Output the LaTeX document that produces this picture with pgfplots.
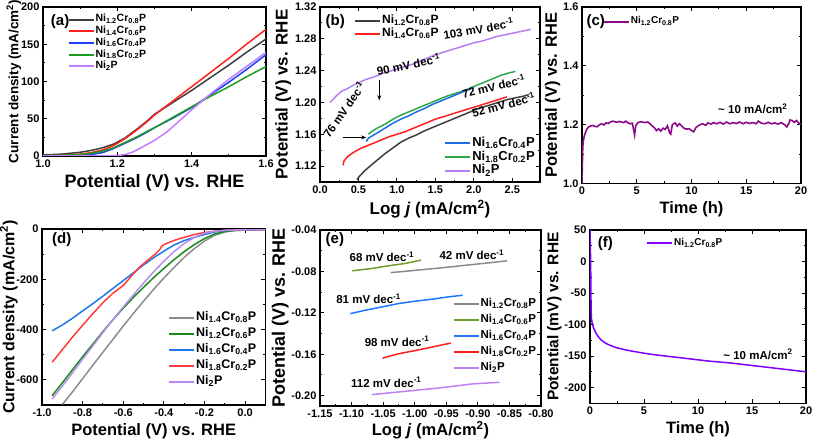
\documentclass[border=0pt]{standalone}
\usepackage{fontspec}
\setmainfont{Liberation Sans}
\usepackage{pgfplots}
\pgfplotsset{compat=1.18}
\usetikzlibrary{arrows.meta}
\newcommand{\fs}[1]{\fontsize{#1}{#1}\selectfont}
\newcommand{\cmp}[2]{Ni\textsubscript{#1}Cr\textsubscript{#2}P}
\newcommand{\nip}{Ni\textsubscript{2}P}
\definecolor{aGray}{HTML}{3F3F3F}
\definecolor{aRed}{HTML}{FF1F1F}
\definecolor{aBlue}{HTML}{1F3FFF}
\definecolor{aGreen}{HTML}{1E9A1E}
\definecolor{aPurple}{HTML}{C07EFF}
\definecolor{bBlue}{HTML}{1C6FE0}
\definecolor{bGreen}{HTML}{2FA84A}
\definecolor{bPurple}{HTML}{B57FF0}
\definecolor{cPurple}{HTML}{8A0A8A}
\definecolor{dGray}{HTML}{8C8C8C}
\definecolor{dGreen}{HTML}{1A8A1A}
\definecolor{dBlue}{HTML}{1E78E6}
\definecolor{dRed}{HTML}{FF3B3B}
\definecolor{dPurple}{HTML}{B98AF2}
\definecolor{eGray}{HTML}{8A8A8A}
\definecolor{eOlive}{HTML}{6E9E2A}
\definecolor{eBlue}{HTML}{1E78FF}
\definecolor{eRed}{HTML}{FF1E1E}
\definecolor{ePurple}{HTML}{C080F0}
\definecolor{fViolet}{HTML}{8000FF}
\pgfplotsset{
  panel/.style={
    scale only axis, anchor=south west,
    axis line style={line width=1.2pt},
    tick align=inside, xtick pos=both, ytick pos=both,
    major tick length=4pt, minor tick length=2.2pt,
    every tick/.append style={line width=0.9pt, black},
    minor x tick num=1, minor y tick num=1,
    scaled ticks=false,
    /pgf/number format/assume math mode=true,
    tick label style={font=\bfseries\fs{11}},
    label style={font=\bfseries\fs{17}},
    legend cell align=left,
    legend style={draw=none, fill=none, inner sep=0pt, outer sep=0pt, anchor=north west, font=\bfseries\fs{10.5}},
    legend image code/.code={\draw[##1, line width=2pt] (0pt,0pt) -- (25pt,0pt);},
    every axis plot/.append style={line width=1.5pt, no markers},
  },
  p1/.style={/pgf/number format/fixed, /pgf/number format/fixed zerofill, /pgf/number format/precision=1},
  p2/.style={/pgf/number format/fixed, /pgf/number format/fixed zerofill, /pgf/number format/precision=2},
}
\begin{document}
\begin{tikzpicture}
\path[use as bounding box] (0,0) rectangle (813pt,439pt);

% ---------------- (a)
\begin{axis}[panel, at={(43pt,283pt)}, width=223pt, height=149pt,
  xmin=1.0, xmax=1.6, ymin=0, ymax=200,
  xtick={1.0,1.2,1.4,1.6}, ytick={0,50,100,150,200},
  xticklabel style={p1},
  xlabel={Potential (V) vs. RHE},
  ylabel={Current density (mA/cm\textsuperscript{2})},
  xlabel style={font=\bfseries\fs{18}},
  ylabel style={font=\bfseries\fs{13.5}}, ylabel shift=-7pt,
  legend style={at={(0.11,0.955)}, nodes={inner sep=1pt, text height=7.2pt, text depth=2.5pt}},
]
\addplot[color=aGray] coordinates {(1.00,1.5) (1.05,2.5) (1.10,5) (1.13,7.5) (1.16,11) (1.19,16) (1.22,24) (1.25,35) (1.28,47) (1.30,56) (1.35,72) (1.40,88) (1.45,105) (1.50,122) (1.55,140) (1.60,157)};
\addlegendentry{\cmp{1.2}{0.8}}
\addplot[color=aRed] coordinates {(1.00,0.5) (1.05,1) (1.10,2.5) (1.13,4.5) (1.16,8) (1.19,14) (1.22,23) (1.25,34) (1.28,46) (1.30,55) (1.35,74) (1.40,93) (1.45,112) (1.50,131) (1.55,151) (1.60,170)};
\addlegendentry{\cmp{1.4}{0.6}}
\addplot[color=aBlue] coordinates {(1.00,0.3) (1.05,0.5) (1.10,1) (1.13,2) (1.16,4.5) (1.19,10) (1.22,17) (1.25,24) (1.28,32) (1.30,38) (1.35,51) (1.40,65) (1.45,82) (1.50,99) (1.55,117) (1.60,136)};
\addlegendentry{\cmp{1.6}{0.4}}
\addplot[color=aGreen] coordinates {(1.00,0.5) (1.05,1) (1.10,2) (1.13,3.5) (1.16,6.5) (1.19,11) (1.22,18) (1.25,25) (1.28,33) (1.30,38) (1.35,52) (1.40,66) (1.45,80) (1.50,93) (1.55,107) (1.60,120)};
\addlegendentry{\cmp{1.8}{0.2}}
\addplot[color=aPurple] coordinates {(1.00,0) (1.15,0) (1.20,0.5) (1.22,2) (1.24,5) (1.26,10) (1.28,15.5) (1.30,21) (1.33,31) (1.36,44) (1.40,62) (1.45,83) (1.50,103) (1.55,121) (1.60,139)};
\addlegendentry{\nip}
\node[anchor=west, font=\bfseries\fs{15}] at (rel axis cs:0.02,0.905) {(a)};
\end{axis}

% ---------------- (b)
\begin{axis}[panel, at={(320pt,257pt)}, width=220pt, height=175pt,
  xmin=0, xmax=2.86, ymin=1.10, ymax=1.32,
  xtick={0,0.5,1,1.5,2,2.5}, ytick={1.12,1.16,1.20,1.24,1.28,1.32},
  xticklabel style={p1}, yticklabel style={p2},
  xlabel={Log \textit{j} (mA/cm\textsuperscript{2})},
  ylabel={Potential (V) vs. RHE}, ylabel shift=-3pt,
  legend style={at={(0.155,0.955)}, font=\bfseries\fs{12}, nodes={inner sep=1pt, text height=8pt, text depth=2.8pt}},
]
\addplot[color=aGray] coordinates {(0.48,1.103) (0.52,1.108) (0.58,1.114) (0.65,1.120) (0.75,1.128) (0.85,1.136) (0.95,1.143) (1.05,1.150) (1.15,1.155) (1.25,1.159) (1.35,1.164) (1.45,1.168) (1.55,1.172) (1.65,1.176) (1.75,1.180) (1.85,1.184) (1.95,1.188) (2.05,1.192) (2.15,1.195) (2.25,1.198) (2.35,1.201) (2.45,1.204) (2.55,1.206) (2.65,1.208) (2.72,1.210)};
\addlegendentry{\cmp{1.2}{0.8}}
\addplot[color=aRed] coordinates {(0.30,1.121) (0.31,1.126) (0.35,1.131) (0.40,1.135) (0.45,1.138) (0.52,1.142) (0.60,1.145) (0.70,1.149) (0.80,1.153) (0.90,1.157) (1.00,1.160) (1.10,1.163) (1.20,1.167) (1.30,1.171) (1.40,1.175) (1.50,1.179) (1.60,1.182) (1.70,1.185) (1.80,1.188) (1.90,1.191) (2.00,1.194) (2.10,1.197) (2.20,1.200) (2.30,1.203) (2.43,1.207)};
\addlegendentry{\cmp{1.4}{0.6}}
\addplot[color=bGreen, forget plot] coordinates {(0.63,1.160) (0.68,1.164) (0.75,1.168) (0.85,1.173) (0.95,1.179) (1.05,1.184) (1.15,1.188) (1.25,1.192) (1.35,1.196) (1.45,1.200) (1.55,1.204) (1.65,1.208) (1.75,1.211) (1.85,1.214) (1.95,1.218) (2.05,1.222) (2.15,1.226) (2.25,1.230) (2.35,1.234) (2.45,1.237) (2.54,1.239)};
\addplot[color=bBlue, forget plot] coordinates {(0.60,1.151) (0.63,1.155) (0.68,1.158) (0.75,1.162) (0.85,1.168) (0.95,1.174) (1.05,1.179) (1.15,1.183) (1.25,1.188) (1.35,1.192) (1.45,1.197) (1.55,1.201) (1.65,1.205) (1.75,1.209) (1.85,1.213) (1.95,1.217) (2.00,1.219)};
\addplot[color=bPurple, forget plot] coordinates {(0.13,1.200) (0.17,1.204) (0.22,1.209) (0.28,1.214) (0.35,1.217) (0.42,1.221) (0.50,1.225) (0.60,1.229) (0.70,1.232) (0.80,1.236) (0.90,1.239) (1.00,1.242) (1.10,1.245) (1.20,1.248) (1.30,1.252) (1.40,1.256) (1.50,1.260) (1.60,1.263) (1.70,1.266) (1.80,1.269) (1.90,1.272) (2.00,1.275) (2.10,1.277) (2.20,1.280) (2.30,1.283) (2.40,1.285) (2.50,1.287) (2.60,1.289) (2.70,1.291) (2.74,1.292)};
\node[anchor=west, font=\bfseries\fs{15}] at (rel axis cs:0.01,0.915) {(b)};
\begin{scope}[every node/.style={font=\bfseries\fs{11.5}}]
\node[rotate=10] at (axis cs:2.06,1.2927) {103 mV dec\textsuperscript{-1}};
\node[rotate=12] at (axis cs:1.15,1.248) {90 mV dec\textsuperscript{-1}};
\node[rotate=55] at (axis cs:0.31,1.191) {76 mV dec\textsuperscript{-1}};
\node[rotate=13] at (axis cs:2.257,1.2206) {72 mV dec\textsuperscript{-1}};
\node[rotate=14] at (axis cs:2.387,1.1974) {52 mV dec\textsuperscript{-1}};
\end{scope}
\draw[-{Stealth[length=5pt,width=4pt]}, line width=0.9pt] (axis cs:0.77,1.2276) -- (axis cs:0.77,1.2027);
\draw[-{Stealth[length=5pt,width=4pt]}, line width=0.9pt] (axis cs:0.30,1.156) -- (axis cs:0.60,1.156);
\end{axis}
\begin{axis}[panel, at={(320pt,257pt)}, width=220pt, height=175pt, hide axis,
  xmin=0, xmax=1, ymin=0, ymax=1,
  legend style={at={(0.565,0.26)}, font=\bfseries\fs{13}, nodes={inner sep=1pt, text height=8.8pt, text depth=3pt}},
]
\addlegendimage{color=bBlue}
\addlegendentry{\cmp{1.6}{0.4}}
\addlegendimage{color=bGreen}
\addlegendentry{\cmp{1.8}{0.2}}
\addlegendimage{color=bPurple}
\addlegendentry{\nip}
\end{axis}

% ---------------- (c)
\begin{axis}[panel, at={(582pt,255.5pt)}, width=219pt, height=176.5pt,
  xmin=0, xmax=20, ymin=1.0, ymax=1.6,
  xtick={0,5,10,15,20}, ytick={1.0,1.2,1.4,1.6},
  yticklabel style={p1},
  xlabel={Time (h)}, ylabel={Potential (V) vs. RHE}, ylabel shift=-4pt,
  label style={font=\bfseries\fs{16.5}},
  legend style={at={(0.095,0.95)}, font=\bfseries\fs{10}, nodes={inner sep=1pt, text height=7pt, text depth=2.4pt}},
]
\addplot[color=cPurple, line width=1.6pt, forget plot] coordinates {(0,1.0) (0.03,1.06) (0.06,1.11) (0.1,1.14) (0.2,1.16) (0.3,1.172) (0.45,1.185) (0.6,1.192) (0.8,1.196) (1.0,1.197) (1.2,1.194) (1.4,1.193) (1.6,1.20) (1.8,1.203) (2.0,1.199) (2.2,1.206) (2.4,1.204) (2.6,1.209) (2.8,1.212) (3.0,1.210) (3.2,1.208) (3.4,1.211) (3.6,1.209) (3.8,1.207) (4.0,1.212) (4.2,1.206) (4.4,1.203) (4.6,1.205) (4.7,1.185) (4.8,1.165) (4.9,1.195) (5.1,1.207) (5.4,1.210) (5.7,1.207) (6.0,1.209) (6.2,1.203) (6.4,1.196) (6.6,1.190) (6.8,1.180) (7.0,1.186) (7.2,1.178) (7.4,1.188) (7.6,1.184) (7.8,1.196) (7.9,1.185) (8.0,1.172) (8.1,1.168) (8.25,1.200) (8.5,1.206) (8.7,1.195) (8.9,1.203) (9.1,1.196) (9.3,1.188) (9.5,1.185) (9.8,1.186) (10.0,1.180) (10.2,1.176) (10.4,1.190) (10.6,1.196) (10.8,1.200) (11.0,1.203) (11.3,1.198) (11.5,1.206) (11.8,1.202) (12.0,1.207) (12.3,1.203) (12.6,1.208) (12.9,1.202) (13.2,1.209) (13.5,1.203) (13.8,1.207) (14.1,1.204) (14.4,1.209) (14.7,1.203) (15.0,1.208) (15.3,1.204) (15.6,1.207) (15.9,1.203) (16.1,1.212) (16.4,1.205) (16.7,1.203) (17.0,1.208) (17.3,1.203) (17.6,1.206) (17.9,1.202) (18.2,1.207) (18.5,1.200) (18.7,1.192) (18.9,1.205) (19.0,1.216) (19.2,1.214) (19.4,1.208) (19.6,1.214) (19.8,1.205) (20.0,1.200)};
\addlegendimage{color=cPurple}
\addlegendentry{\cmp{1.2}{0.8}}
\node[anchor=west, font=\bfseries\fs{15}] at (rel axis cs:0.005,0.917) {(c)};
\node[font=\bfseries\fs{11.5}] at (axis cs:15.6,1.255) {\textasciitilde\ 10 mA/cm\textsuperscript{2}};
\end{axis}

% ---------------- (d)
\begin{axis}[panel, at={(42pt,34pt)}, width=223.4pt, height=176pt,
  xmin=-1.0, xmax=0.1, ymin=-700, ymax=0,
  xtick={-1,-0.8,-0.6,-0.4,-0.2,0}, ytick={0,-200,-400,-600},
  xticklabel style={p1},
  xlabel={Potential (V) vs. RHE},
  ylabel={Current density (mA/cm\textsuperscript{2})}, ylabel shift=-8pt,
  label style={font=\bfseries\fs{16.5}},
  ylabel style={font=\bfseries\fs{16}},
  legend style={at={(0.565,0.534)}, font=\bfseries\fs{12.5}, nodes={inner sep=1pt, text height=8.7pt, text depth=3.3pt}, row sep=2pt},
]
\addplot[color=dGray] coordinates {(-0.9,-698) (-0.85,-648) (-0.8,-595) (-0.75,-542) (-0.7,-490) (-0.65,-438) (-0.6,-386) (-0.55,-336) (-0.5,-287) (-0.45,-240) (-0.4,-195) (-0.35,-153) (-0.3,-113) (-0.25,-78) (-0.2,-48) (-0.15,-25) (-0.1,-12) (-0.05,-6) (0,-4) (0.1,-2)};
\addlegendentry{\cmp{1.4}{0.8}}
\addplot[color=dGreen] coordinates {(-0.95,-663) (-0.9,-612) (-0.85,-560) (-0.8,-508) (-0.75,-458) (-0.7,-408) (-0.65,-360) (-0.6,-315) (-0.55,-272) (-0.5,-232) (-0.45,-193) (-0.4,-157) (-0.35,-122) (-0.3,-90) (-0.25,-62) (-0.2,-38) (-0.15,-20) (-0.1,-10) (-0.05,-6) (0,-4) (0.1,-2)};
\addlegendentry{\cmp{1.2}{0.6}}
\addplot[color=dBlue] coordinates {(-0.95,-405) (-0.9,-382) (-0.85,-355) (-0.8,-326) (-0.75,-297) (-0.7,-267) (-0.65,-236) (-0.6,-205) (-0.55,-174) (-0.5,-143) (-0.45,-114) (-0.4,-88) (-0.35,-64) (-0.3,-46) (-0.25,-33) (-0.2,-22) (-0.15,-12) (-0.1,-6) (0,-3) (0.1,-2)};
\addlegendentry{\cmp{1.6}{0.4}}
\addplot[color=dRed] coordinates {(-0.95,-530) (-0.9,-480) (-0.85,-430) (-0.8,-383) (-0.75,-337) (-0.7,-293) (-0.65,-255) (-0.6,-225) (-0.57,-197) (-0.55,-178) (-0.52,-152) (-0.5,-138) (-0.47,-118) (-0.44,-98) (-0.42,-82) (-0.41,-68) (-0.40,-62) (-0.37,-52) (-0.34,-43) (-0.3,-33) (-0.25,-22) (-0.2,-14) (-0.15,-9) (-0.1,-5) (0,-3) (0.1,-2)};
\addlegendentry{\cmp{1.8}{0.2}}
\addplot[color=dPurple] coordinates {(-0.95,-676) (-0.9,-625) (-0.85,-572) (-0.8,-518) (-0.75,-465) (-0.7,-412) (-0.65,-360) (-0.6,-310) (-0.55,-262) (-0.5,-215) (-0.45,-170) (-0.4,-128) (-0.35,-90) (-0.3,-58) (-0.25,-33) (-0.2,-17) (-0.15,-9) (-0.1,-5) (0,-3) (0.1,-2)};
\addlegendentry{\nip}
\node[anchor=west, font=\bfseries\fs{15}] at (rel axis cs:0.03,0.937) {(d)};
\end{axis}

% ---------------- (e)
\begin{axis}[panel, at={(320pt,33pt)}, width=221pt, height=176pt,
  xmin=-1.15, xmax=-0.80, ymin=-0.21, ymax=-0.04,
  xtick={-1.15,-1.1,-1.05,-1,-0.95,-0.9,-0.85,-0.8}, ytick={-0.04,-0.08,-0.12,-0.16,-0.20},
  xticklabel style={p2}, yticklabel style={p2},
  xlabel={Log \textit{j} (mA/cm\textsuperscript{2})}, xlabel shift=-3pt,
  xlabel style={font=\bfseries\fs{16.5}},
  ylabel={Potential (V) vs. RHE}, ylabel shift=-4pt,
  ylabel style={font=\bfseries\fs{18}},
  legend style={at={(0.60,0.614)}, font=\bfseries\fs{11.5}, nodes={inner sep=1pt, text height=8pt, text depth=3pt}, row sep=2.9pt},
]
\addplot[color=eGray] coordinates {(-1.038,-0.0812) (-1.00,-0.0790) (-0.96,-0.0767) (-0.92,-0.0741) (-0.89,-0.0722) (-0.854,-0.0698)};
\addlegendentry{\cmp{1.2}{0.8}}
\addplot[color=eOlive] coordinates {(-1.099,-0.0794) (-1.068,-0.0772) (-1.042,-0.0746) (-1.015,-0.0723) (-0.990,-0.0691)};
\addlegendentry{\cmp{1.4}{0.6}}
\addplot[color=eBlue] coordinates {(-1.102,-0.1208) (-1.079,-0.1176) (-1.052,-0.1143) (-1.026,-0.1111) (-1.0,-0.1088) (-0.973,-0.1069) (-0.947,-0.1046) (-0.924,-0.1030)};
\addlegendentry{\cmp{1.6}{0.4}}
\addplot[color=eRed] coordinates {(-1.051,-0.1638) (-1.026,-0.1596) (-0.999,-0.1564) (-0.973,-0.1531) (-0.943,-0.1492)};
\addlegendentry{\cmp{1.8}{0.2}}
\addplot[color=ePurple] coordinates {(-1.068,-0.1990) (-1.015,-0.1958) (-0.962,-0.1926) (-0.909,-0.1887) (-0.866,-0.1871)};
\addlegendentry{\nip}
\node[anchor=west, font=\bfseries\fs{15}] at (rel axis cs:0.01,0.943) {(e)};
\begin{scope}[every node/.style={font=\bfseries\fs{11.5}}]
\node at (axis cs:-1.052,-0.0659) {68 mV dec\textsuperscript{-1}};
\node at (axis cs:-0.9095,-0.0642) {42 mV dec\textsuperscript{-1}};
\node at (axis cs:-1.073,-0.1063) {81 mV dec\textsuperscript{-1}};
\node at (axis cs:-1.028,-0.1476) {98 mV dec\textsuperscript{-1}};
\node at (axis cs:-1.045,-0.1870) {112 mV dec\textsuperscript{-1}};
\end{scope}
\end{axis}

% ---------------- (f)
\begin{axis}[panel, at={(590pt,35.7pt)}, width=216pt, height=173.3pt,
  xmin=0, xmax=20, ymin=-225, ymax=50,
  xtick={0,5,10,15,20}, ytick={50,0,-50,-100,-150,-200},
  xlabel={Time (h)}, ylabel={Potential (mV) vs. RHE}, ylabel shift=-4pt,
  xlabel style={font=\bfseries\fs{16.5}},
  ylabel style={font=\bfseries\fs{15.5}},
  legend style={at={(0.26,0.955)}, font=\bfseries\fs{10}, nodes={inner sep=1pt, text height=7pt, text depth=2.4pt}},
]
\addplot[color=fViolet, forget plot] coordinates {(0,50) (0.03,25) (0.06,0) (0.08,-40) (0.1,-75) (0.13,-90) (0.2,-98) (0.3,-104) (0.45,-110) (0.6,-115) (0.8,-120) (1.0,-124) (1.3,-128) (1.6,-131) (2.0,-134) (2.5,-137) (3.0,-139) (3.5,-141) (4.0,-142.5) (4.5,-144) (5,-145.5) (6,-148) (7,-150) (8,-152) (9,-154) (10,-156) (11,-158) (12,-159.5) (13,-161) (14,-163) (15,-165) (16,-167) (17,-169) (18,-171) (19,-173) (20,-175)};
\addlegendimage{color=fViolet}
\addlegendentry{\cmp{1.2}{0.8}}
\node[anchor=west, font=\bfseries\fs{15}] at (rel axis cs:0.02,0.923) {(f)};
\node[font=\bfseries\fs{11.5}] at (axis cs:15.56,-147.5) {\textasciitilde\ 10 mA/cm\textsuperscript{2}};
\end{axis}
\end{tikzpicture}
\end{document}
